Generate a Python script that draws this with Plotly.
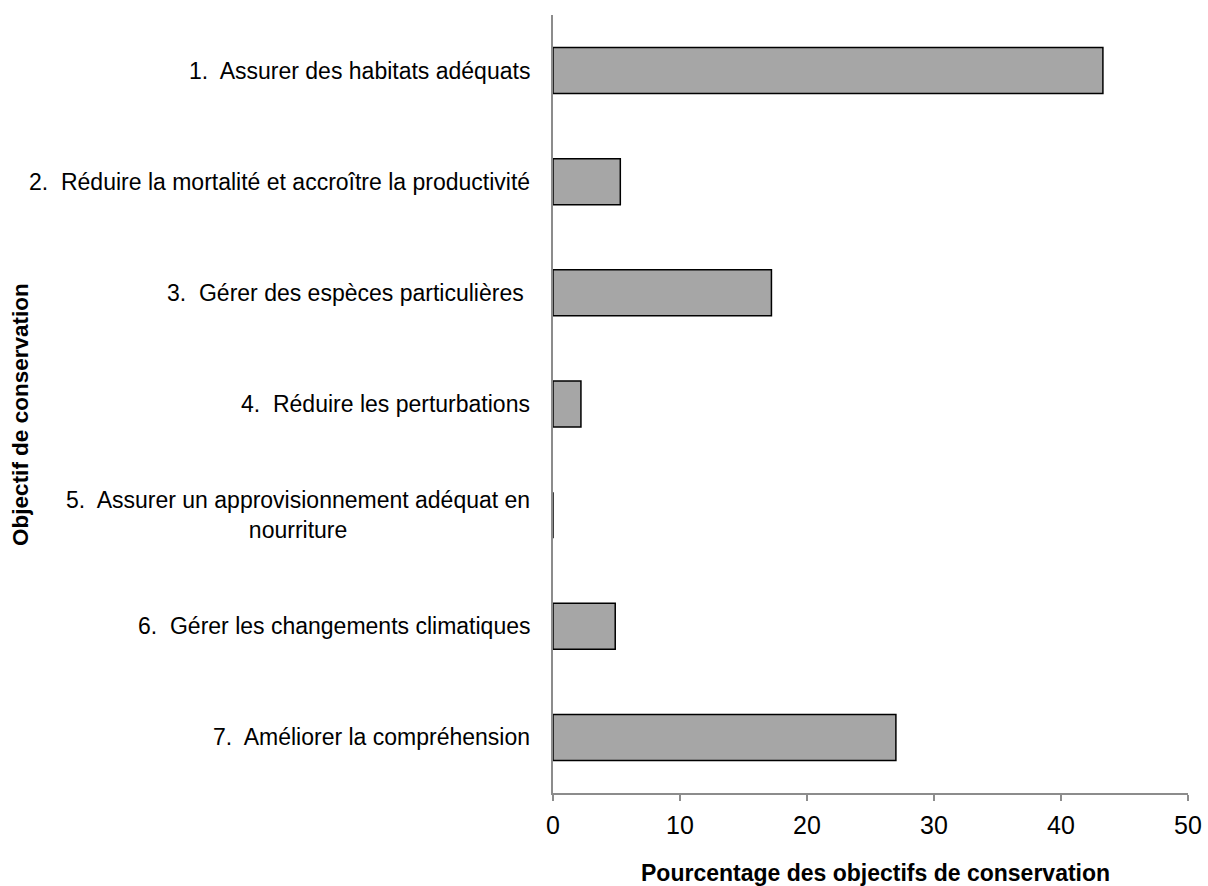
import plotly.graph_objects as go

categories = [
    "1.  Assurer des habitats adéquats",
    "2.  Réduire la mortalité et accroître la productivité",
    "3.  Gérer des espèces particulières\u00a0",
    "4.  Réduire les perturbations",
    "5.  Assurer un approvisionnement adéquat en<br>nourriture",
    "6.  Gérer les changements climatiques",
    "7.  Améliorer la compréhension",
]
values = [43.3, 5.3, 17.2, 2.2, 0.0, 4.9, 27.0]
x_ticks = [0, 10, 20, 30, 40, 50]
x_title = "Pourcentage des objectifs de conservation"
y_title = "Objectif de conservation"

FONT = "Liberation Sans, Arial, sans-serif"

fig = go.Figure()
fig.add_trace(go.Bar(
    y=categories, x=values, orientation="h",
    marker=dict(color="#a6a6a6", line=dict(color="#000000", width=1.5)),
    showlegend=False,
))

for c in categories:
    fig.add_annotation(
        x=0, xref="paper", y=c, yref="y", xshift=-21,
        text=c, showarrow=False, xanchor="right", yanchor="middle",
        align="center", font=dict(family=FONT, size=23, color="#000000"),
    )

# axis titles
fig.add_annotation(
    x=0.5, xref="paper", y=0, yref="paper", xshift=5, yshift=-80,
    text="<b>" + x_title + "</b>", showarrow=False,
    xanchor="center", yanchor="middle",
    font=dict(family=FONT, size=23, color="#000000"),
)
fig.add_annotation(
    x=0, xref="paper", y=0.486, yref="paper", xshift=-532,
    text="<b>" + y_title + "</b>", showarrow=False, textangle=-90,
    xanchor="center", yanchor="middle",
    font=dict(family=FONT, size=22.5, color="#000000"),
)

fig.update_layout(
    width=1208, height=886,
    margin=dict(l=553, r=20, t=15, b=93),
    paper_bgcolor="white", plot_bgcolor="white",
    bargap=0.586,
    font=dict(family=FONT, color="#000000"),
    xaxis=dict(
        range=[0, 50], tickvals=x_ticks, showgrid=False, zeroline=False,
        showline=True, linecolor="#8c8c8c", linewidth=2,
        ticks="outside", ticklen=6, tickcolor="#8c8c8c", tickwidth=2,
        ticklabelstandoff=3, automargin=False,
        tickfont=dict(family=FONT, size=25, color="#000000"),
    ),
    yaxis=dict(
        autorange="reversed", showgrid=False, zeroline=False,
        showline=True, linecolor="#8c8c8c", linewidth=2,
        showticklabels=False, ticks="", automargin=False,
    ),
)

fig.write_html(
    "out.html",
    config={"displayModeBar": False},
    post_script="document.body.style.margin='0';",
)
